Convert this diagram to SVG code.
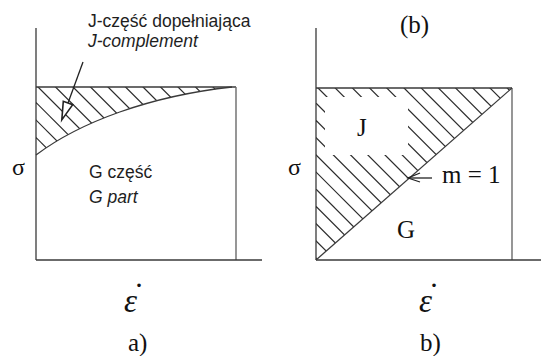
<svg xmlns="http://www.w3.org/2000/svg" width="541" height="356" viewBox="0 0 541 356">
  <style>
    .ax { stroke: #3a3a3a; stroke-width: 1.3; fill: none; }
    .ax2 { stroke: #6a6a6a; stroke-width: 1.4; fill: none; }
    .hatch { stroke: #2a2a2a; stroke-width: 1.2; }
    .sans { font-family: "Liberation Sans", Arial, sans-serif; font-size: 17.5px; fill: #1e1e1e; }
    .it { font-style: italic; }
    .serif { font-family: "Liberation Serif", "Times New Roman", serif; font-size: 25px; fill: #111; }
    .sig { font-family: "Liberation Serif", "Times New Roman", serif; font-size: 24px; fill: #111; }
    .eps { font-family: "Liberation Serif", "Times New Roman", serif; font-size: 33px; font-style: italic; fill: #111; }
    .dot { font-family: "Liberation Serif", "Times New Roman", serif; font-size: 30px; fill: #111; text-anchor: middle; }
  </style>
  <defs>
    <clipPath id="clipJa">
      <path d="M36,87 L232,87 C150,96 80,122 36,155 Z"/>
    </clipPath>
    <clipPath id="clipJb">
      <polygon points="316,88 512,88 316,260"/>
    </clipPath>
  </defs>
  <rect width="541" height="356" fill="#ffffff"/>

  <!-- Panel a -->
  <g id="panel-a">
    <g id="a-hatch" clip-path="url(#clipJa)" class="hatch">
      <line x1="-112" y1="7" x2="68" y2="187"/>
      <line x1="-94.5" y1="7" x2="85.5" y2="187"/>
      <line x1="-77" y1="7" x2="103" y2="187"/>
      <line x1="-59.5" y1="7" x2="120.5" y2="187"/>
      <line x1="-42" y1="7" x2="138" y2="187"/>
      <line x1="-24.5" y1="7" x2="155.5" y2="187"/>
      <line x1="-7" y1="7" x2="173" y2="187"/>
      <line x1="10.5" y1="7" x2="190.5" y2="187"/>
      <line x1="28" y1="7" x2="208" y2="187"/>
      <line x1="45.5" y1="7" x2="225.5" y2="187"/>
      <line x1="63" y1="7" x2="243" y2="187"/>
      <line x1="80.5" y1="7" x2="260.5" y2="187"/>
      <line x1="98" y1="7" x2="278" y2="187"/>
      <line x1="115.5" y1="7" x2="295.5" y2="187"/>
      <line x1="133" y1="7" x2="313" y2="187"/>
    </g>
    <g id="a-axes">
      <line class="ax" x1="36" y1="28" x2="36" y2="260"/>
      <line class="ax" x1="36" y1="87" x2="236" y2="87"/>
      <line class="ax2" x1="236" y1="87" x2="236" y2="260"/>
      <line class="ax" x1="36" y1="260" x2="262" y2="260"/>
      <path class="ax" d="M36,155 C80,122 150,96 232,87"/>
    </g>
    <g id="a-labels">
      <text class="sans" x="88" y="27">J-część dopełniająca</text>
      <text class="sans it" x="88" y="47">J-complement</text>
      <text class="sans" x="89" y="178">G część</text>
      <text class="sans it" x="89" y="203">G part</text>
      <text class="sig" x="12" y="175">σ</text>
      <text class="eps" x="124" y="312">ε</text>
      <text class="dot" x="139" y="287">.</text>
      <text class="serif" x="128" y="351">a)</text>
    </g>
  </g>

  <!-- Panel b -->
  <g id="panel-b">
    <g id="b-hatch" clip-path="url(#clipJb)" class="hatch">
      <line x1="-54" y1="-112" x2="396" y2="338"/>
      <line x1="-36.8" y1="-112" x2="413.2" y2="338"/>
      <line x1="-19.6" y1="-112" x2="430.4" y2="338"/>
      <line x1="-2.4" y1="-112" x2="447.6" y2="338"/>
      <line x1="14.8" y1="-112" x2="464.8" y2="338"/>
      <line x1="32" y1="-112" x2="482" y2="338"/>
      <line x1="49.2" y1="-112" x2="499.2" y2="338"/>
      <line x1="66.4" y1="-112" x2="516.4" y2="338"/>
      <line x1="83.6" y1="-112" x2="533.6" y2="338"/>
      <line x1="100.8" y1="-112" x2="550.8" y2="338"/>
      <line x1="118" y1="-112" x2="568" y2="338"/>
      <line x1="135.2" y1="-112" x2="585.2" y2="338"/>
      <line x1="152.4" y1="-112" x2="602.4" y2="338"/>
      <line x1="169.6" y1="-112" x2="619.6" y2="338"/>
      <line x1="186.8" y1="-112" x2="636.8" y2="338"/>
      <line x1="204" y1="-112" x2="654" y2="338"/>
      <line x1="221.2" y1="-112" x2="671.2" y2="338"/>
      <line x1="238.4" y1="-112" x2="688.4" y2="338"/>
      <line x1="255.6" y1="-112" x2="705.6" y2="338"/>
      <line x1="272.8" y1="-112" x2="722.8" y2="338"/>
      <line x1="290" y1="-112" x2="740" y2="338"/>
      <line x1="307.2" y1="-112" x2="757.2" y2="338"/>
    </g>
    <rect id="b-gap" x="325" y="97" width="83" height="58" fill="#ffffff"/>
    <g id="b-axes">
      <line class="ax" x1="316" y1="28" x2="316" y2="260"/>
      <line class="ax" x1="316" y1="88" x2="512" y2="88"/>
      <line class="ax2" x1="512" y1="88" x2="512" y2="260"/>
      <line class="ax" x1="316" y1="260" x2="541" y2="260"/>
      <line class="ax" x1="316" y1="260" x2="512" y2="88"/>
    </g>
    <g id="b-labels">
      <text class="serif" x="400" y="33">(b)</text>
      <text class="serif" x="357" y="136">J</text>
      <text class="serif" x="397" y="238">G</text>
      <text class="serif" x="442" y="183">m = 1</text>
      <text class="sig" x="288" y="175">σ</text>
      <text class="eps" x="419" y="312">ε</text>
      <text class="dot" x="434" y="287">.</text>
      <text class="serif" x="420" y="351">b)</text>
    </g>
  </g>

  <!-- Connectors (pointer arrows) -->
  <g id="connectors" stroke="#222" stroke-width="1.3" fill="none">
    <line x1="83" y1="62" x2="68" y2="103"/>
    <polygon points="61.8,119.9 72.7,104.7 63.3,101.3" fill="#ffffff" stroke-width="1.6"/>
    <line x1="432" y1="178" x2="408" y2="178"/>
    <polyline points="420,173 408,178 420,182"/>
  </g>
</svg>
